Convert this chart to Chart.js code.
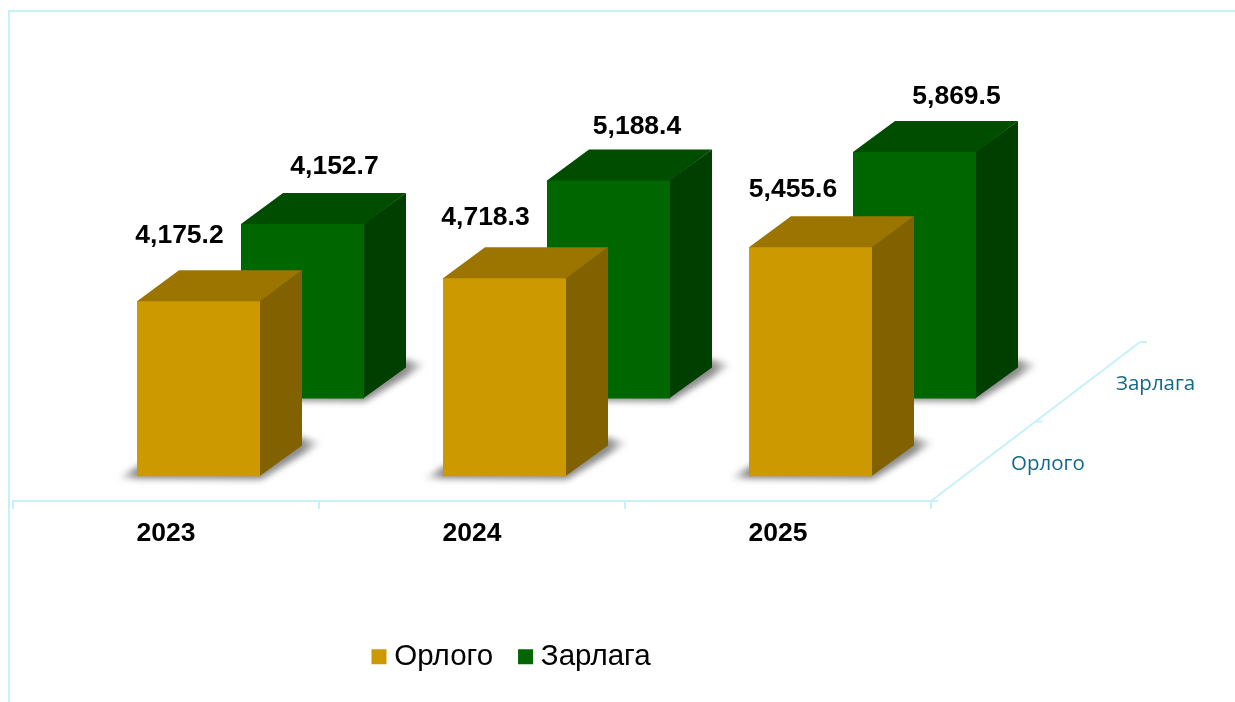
<!DOCTYPE html>
<html>
<head>
<meta charset="utf-8">
<style>
  html, body { margin: 0; padding: 0; background: #fff; overflow: hidden; }
  #wrap { position: relative; width: 1235px; height: 702px; }
</style>
<script src="https://cdn.jsdelivr.net/npm/chart.js@4/dist/chart.umd.min.js"></script>
</head>
<body>
<div id="wrap"><canvas id="chart1" width="1235" height="702"></canvas></div>
<script>
// data
const years = ['2023', '2024', '2025'];
const orlogo = [4175.2, 4718.3, 5455.6];
const zarlaga = [4152.7, 5188.4, 5869.5];
const seriesNames = ['Орлого', 'Зарлага'];

// layout of the fake 3d box
const pxPerUnit = 0.042;
const chartTop = 20;
const chartBottom = 476.5;
const rowGap = 78;          // back row stands this much higher than the front row
const depthX = 42;
const depthY = 31;
const labelShift = -84.5;   // year labels sit left of the bar groups
const lineColor = '#c6f0fc';

// the value labels were placed by hand in the original
const labelNudge = [
  [[-19, -65], [-19, -61], [-17.5, -58]],
  [[32, -57], [28.5, -54], [42, -55]]
];

const faceColors = [
  { top: '#9c7500', side: '#826200' },
  { top: '#004d00', side: '#003f00' }
];

function poly(ctx, pts) {
  ctx.beginPath();
  pts.forEach(function (p, i) {
    if (i == 0) ctx.moveTo(p[0], p[1]);
    else ctx.lineTo(p[0], p[1]);
  });
  ctx.closePath();
  ctx.fill();
}

function line(ctx, x1, y1, x2, y2) {
  ctx.beginPath();
  ctx.moveTo(x1, y1);
  ctx.lineTo(x2, y2);
  ctx.stroke();
}

// frame and floor lines, behind everything
const floorPlugin = {
  id: 'floor',
  beforeDatasetsDraw(chart) {
    const ctx = chart.ctx;
    const x = chart.scales.x;
    const step = x.getPixelForTick(1) - x.getPixelForTick(0);
    const left = x.getPixelForTick(0) - step / 2 + labelShift;
    const right = left + step * years.length;
    const fy = 501;

    ctx.save();
    ctx.strokeStyle = lineColor;
    ctx.lineWidth = 2;
    line(ctx, 9, 10, 9, 702);
    line(ctx, 8, 11, 1235, 11);

    line(ctx, left, fy, right, fy);
    for (let i = 0; i <= years.length; i++) {
      line(ctx, left + step * i, fy - 1, left + step * i, fy + 8);
    }
    line(ctx, right, fy, right + 7, fy);

    const bx = right + 209, by = fy - 159;
    line(ctx, right, fy, bx, by);
    line(ctx, bx, by, bx + 7, by);
    line(ctx, (right + bx) / 2, (fy + by) / 2, (right + bx) / 2 + 7, (fy + by) / 2);

    ctx.fillStyle = '#12688a';
    ctx.font = '20.5px "Open Sans"';
    ctx.textAlign = 'left';
    ctx.textBaseline = 'middle';
    ctx.fillText(seriesNames[0], right + 80, fy - 37);
    ctx.fillText(seriesNames[1], right + 185, fy - 117);
    ctx.restore();
  },
  // shadow, roof and side of every bar, just before the bar itself
  beforeDatasetDraw(chart, args) {
    const ctx = chart.ctx;
    const c = faceColors[args.index];
    args.meta.data.forEach(function (bar) {
      const l = bar.x - bar.width / 2;
      const r = bar.x + bar.width / 2;
      const t = bar.y;
      const b = bar.base;

      const sx1 = l - 20, sx2 = r + depthX + 20;
      const grad = ctx.createLinearGradient(sx1, 0, sx2, 0);
      const edge = 20 / (sx2 - sx1);
      grad.addColorStop(0, 'rgba(120,120,120,0)');
      grad.addColorStop(edge, 'rgba(120,120,120,0.85)');
      grad.addColorStop(1 - edge, 'rgba(120,120,120,0.85)');
      grad.addColorStop(1, 'rgba(120,120,120,0)');

      ctx.save();
      ctx.filter = 'blur(3px)';
      ctx.fillStyle = grad;
      poly(ctx, [[sx1, b + 2], [r + 1, b + 3], [sx2, b - depthY - 3],
        [r + depthX, b - depthY - 8], [l, b - 10]]);
      ctx.restore();

      // one px under the front face so no seam shows through
      ctx.fillStyle = c.side;
      poly(ctx, [[r - 1, t], [r + depthX, t - depthY], [r + depthX, b - depthY], [r - 1, b]]);
      ctx.fillStyle = c.top;
      poly(ctx, [[l, t + 1], [l, t], [l + depthX, t - depthY], [r + depthX, t - depthY], [r, t], [r, t + 1]]);
    });
  },
  afterDatasetsDraw(chart) {
    const ctx = chart.ctx;
    ctx.save();
    ctx.fillStyle = '#000';
    ctx.font = 'bold 26.5px "Liberation Sans"';
    ctx.textAlign = 'center';
    ctx.textBaseline = 'middle';
    chart.data.datasets.forEach(function (ds, s) {
      chart.getDatasetMeta(s).data.forEach(function (bar, i) {
        const txt = ds.data[i].toLocaleString('en-US', { minimumFractionDigits: 1 });
        ctx.fillText(txt, bar.x + labelNudge[s][i][0], bar.y + labelNudge[s][i][1]);
      });
    });
    ctx.restore();
  },
  // legend is not centred on the page in the original
  afterLayout(chart) {
    chart.legend.left = 346.5;
    chart.legend.top = 610;
  }
};

const chartHeight = chartBottom - chartTop;

const config = {
  type: 'bar',
  data: {
    labels: years,
    datasets: [
      { label: seriesNames[0], data: orlogo, backgroundColor: '#cc9900', yAxisID: 'y', borderWidth: 0 },
      { label: seriesNames[1], data: zarlaga, backgroundColor: '#006600', yAxisID: 'y2', borderWidth: 0 }
    ]
  },
  options: {
    responsive: false,
    animation: false,
    categoryPercentage: 208 / 306,
    barPercentage: 123 / 104,
    layout: { padding: { left: 97.5, right: 219.5, top: chartTop, bottom: 0 } },
    plugins: {
      tooltip: { enabled: false },
      legend: {
        position: 'bottom',
        align: 'start',
        labels: {
          usePointStyle: true,
          pointStyle: 'rect',
          boxWidth: 1,
          boxHeight: 15,
          padding: 32,
          color: '#000',
          font: { family: '"Liberation Sans"', size: 29.5 }
        }
      }
    },
    scales: {
      x: {
        grid: { display: false },
        border: { display: false },
        afterFit(s) { s.height = 702 - chartBottom - s.chart.legend.height; },
        ticks: {
          autoSkip: false,
          maxRotation: 0,
          labelOffset: labelShift,
          padding: 33,
          color: '#000',
          font: { family: '"Liberation Sans"', size: 26.5, weight: 'bold' }
        }
      },
      y: {
        display: false,
        min: 0,
        max: chartHeight / pxPerUnit
      },
      y2: {
        display: false,
        min: -rowGap / pxPerUnit,
        max: (chartHeight - rowGap) / pxPerUnit
      }
    }
  },
  plugins: [floorPlugin]
};

const myChart = new Chart(document.getElementById('chart1'), config);
</script>
</body>
</html>
